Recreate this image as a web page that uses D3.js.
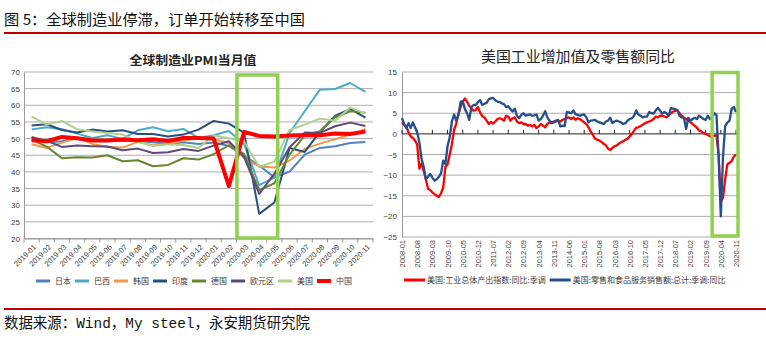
<!DOCTYPE html>
<html><head><meta charset="utf-8">
<script src="https://cdn.jsdelivr.net/npm/d3@7"></script>
<style>body{margin:0;background:#fff}svg{display:block}</style>
</head><body>
<svg id="c" width="766" height="342"></svg>
<script>
// ---------- data: left chart (Global manufacturing PMI) ----------
const months = ["2019-01","2019-02","2019-03","2019-04","2019-05","2019-06","2019-07","2019-08","2019-09","2019-10","2019-11","2019-12","2020-01","2020-02","2020-03","2020-04","2020-05","2020-06","2020-07","2020-08","2020-09","2020-10","2020-11"];
const seriesNames = ["日本","巴西","韩国","印度","德国","欧元区","美国","中国"];
const japan   = [50.3,48.9,49.2,50.2,49.8,49.3,49.4,49.3,48.9,48.4,48.9,48.4,48.8,47.8,44.8,41.9,38.4,40.1,45.2,47.2,47.7,48.7,49.0];
const brazil  = [52.7,53.4,52.8,51.5,50.2,51.0,49.9,52.5,53.4,52.2,52.9,50.2,51.0,52.3,48.4,36.0,38.3,51.6,58.2,64.7,64.9,66.7,64.0];
const korea   = [48.3,47.2,48.8,50.2,48.4,47.5,47.3,49.0,48.0,48.4,49.4,50.1,49.8,48.7,44.2,41.6,41.3,43.4,46.9,48.5,49.8,51.2,52.9];
const india   = [53.9,54.3,52.6,51.8,52.7,52.1,52.5,51.4,51.4,50.6,51.2,52.7,55.3,54.5,51.8,27.4,30.8,47.2,46.0,52.0,56.8,58.9,56.3];
const germany = [49.7,47.6,44.1,44.4,44.3,45.0,43.2,43.5,41.7,42.1,44.1,43.7,45.3,48.0,45.4,34.5,36.6,45.2,51.0,52.2,56.4,58.2,57.8];
const euro    = [50.5,49.3,47.5,47.9,47.7,47.6,46.5,47.0,45.7,45.9,46.9,46.3,47.9,49.2,44.5,33.4,39.4,47.4,51.8,51.7,53.7,54.8,53.8];
const usa     = [56.6,54.2,55.3,52.8,52.1,51.7,51.2,49.1,47.8,48.3,48.1,47.2,50.9,50.1,49.1,41.5,43.1,52.6,54.2,56.0,55.4,59.3,57.5];
const china   = [49.5,49.2,50.5,50.1,49.4,49.4,49.7,49.5,49.8,49.3,50.2,50.2,50.0,35.7,52.0,50.8,50.6,50.9,51.1,51.0,51.5,51.4,52.1];
const leftYTicks = [20,25,30,35,40,45,50,55,60,65,70];
const leftBox = ["2020-03","2020-05"];

// ---------- data: right chart (US IP & retail sales YoY), monthly 2008-01 .. 2020-11 ----------
const rightStart = "2008-01";
const ipYoY = [
 2.8,2.2,1.8,0.4,-0.6,-1.0,-1.6,-2.6,-8.4,-7.2,-9.0,-11.0,
 -13.3,-13.6,-14.2,-14.6,-15.0,-15.3,-14.4,-13.0,-8.0,-7.4,-5.0,-2.5,
 1.0,2.5,4.8,6.5,7.8,8.6,7.8,6.8,6.2,5.6,5.8,6.5,
 5.2,4.3,4.0,3.2,2.4,2.9,2.5,3.0,3.6,3.8,3.6,3.2,
 4.4,4.2,3.2,3.8,4.0,3.0,2.6,2.8,2.4,2.4,2.0,2.2,
 1.8,2.2,1.4,1.8,2.4,2.0,1.6,2.4,2.8,2.6,2.8,3.0,
 3.2,3.0,3.4,3.6,3.8,4.0,3.6,4.0,3.4,3.8,3.6,3.2,
 2.8,2.4,1.6,0.6,-0.2,-1.2,-1.4,-1.6,-2.0,-2.4,-2.8,-3.6,
 -3.9,-3.4,-3.0,-2.8,-2.4,-2.0,-1.8,-1.4,-1.2,-0.6,0.0,0.8,
 1.5,1.6,1.9,2.2,2.6,2.8,3.0,3.2,3.6,4.2,4.0,4.4,
 4.4,4.2,4.0,4.6,5.0,5.4,5.6,5.7,5.0,4.4,3.9,3.6,
 3.2,2.8,2.4,1.9,1.5,0.8,0.6,0.2,0.0,-0.3,-0.6,-0.8,
 -0.4,-0.3,-5.2,-16.4,-15.5,-11.0,-7.4,-7.0,-6.6,-5.5,-5.0];
const retailYoY = [
 3.8,2.4,1.4,2.6,1.4,2.8,1.6,0.4,-2.0,-6.0,-8.0,-11.0,
 -10.4,-9.7,-10.6,-11.3,-11.0,-10.4,-9.6,-6.5,-7.3,-3.0,-0.8,3.0,
 4.7,3.2,4.5,7.7,8.0,6.0,5.0,3.4,6.5,7.0,7.0,7.7,
 8.2,7.0,7.3,7.5,8.4,8.6,8.7,8.2,7.8,7.7,7.4,7.2,
 6.5,6.7,6.0,5.4,6.1,4.4,3.8,4.6,5.0,4.4,4.6,4.7,
 4.4,4.5,4.7,3.2,3.6,4.4,5.5,4.0,3.2,2.8,3.0,3.2,
 3.4,1.8,2.0,1.9,5.3,5.2,5.0,5.7,4.8,4.6,4.4,4.6,
 4.7,4.0,2.8,3.2,3.3,3.4,3.0,2.8,2.6,2.4,3.0,3.2,
 3.9,2.6,3.0,3.2,3.0,2.8,2.4,2.6,3.2,3.6,3.8,4.4,
 5.7,4.7,4.4,4.0,4.2,4.2,5.3,5.0,4.9,5.7,6.3,5.6,
 4.9,5.3,5.0,4.4,6.3,6.1,6.0,5.7,4.4,4.0,3.9,1.2,
 3.9,3.2,3.6,3.9,3.6,4.4,4.0,3.6,3.4,4.4,3.6,3.9,
 5.0,4.6,-5.7,-20.0,-5.6,1.9,2.7,3.2,6.1,6.5,5.3];
const rightNames = ["美国:工业总体产出指数:同比:季调","美国:零售和食品服务销售额:总计:季调:同比"];
const rightXTicks = ["2008-01","2008-08","2009-03","2009-10","2010-05","2010-12","2011-07","2012-02","2012-09","2013-04","2013-11","2014-06","2015-01","2015-08","2016-03","2016-10","2017-05","2017-12","2018-07","2019-02","2019-09","2020-04","2020-11"];
const rightYTicks = [-25,-20,-15,-10,-5,0,5,10,15];
const rightBox = ["2019-12","2020-11"];

// ---------- styles ----------
const leftColors = ["#4F81BD","#4BACC6","#F79646","#254E82","#67862F","#5F497A","#ADD08A","#FF0000"];
const leftWidths = [2,2,2,2,2,2,2,4];
const rightColors = ["#FF0000","#244F8C"];
const gridColor = "#ADADAD";
const textColor = "#404040";
const boxColor = "#92D050";
const cjk = "'Noto Sans CJK SC','Noto Sans',sans-serif";
const latin = "'Liberation Sans',Arial,sans-serif";

const svg = d3.select("#c");

// ---------- header / footer ----------
svg.append("text").attr("x",4).attr("y",25).attr("font-family",cjk).attr("font-size",15)
  .attr("fill","#111").attr("textLength",301).attr("lengthAdjust","spacingAndGlyphs")
  .text("图 5：全球制造业停滞，订单开始转移至中国");
svg.append("line").attr("x1",4).attr("x2",766).attr("y1",33).attr("y2",33).attr("stroke","#C00000").attr("stroke-width",2);
svg.append("line").attr("x1",4).attr("x2",766).attr("y1",309).attr("y2",309).attr("stroke","#C00000").attr("stroke-width",2);
svg.append("text").attr("x",4).attr("y",328).attr("font-family","'Liberation Mono','Noto Sans CJK SC',monospace").attr("font-size",15)
  .attr("fill","#111").attr("textLength",306).attr("lengthAdjust","spacingAndGlyphs")
  .text("数据来源：Wind，My steel，永安期货研究院");

// ---------- left chart ----------
{
  const g = svg.append("g");
  const x = d3.scaleBand().domain(months).range([24,373]);
  const y = d3.scaleLinear().domain([20,70]).range([238.5,72]);
  const cx = m => x(m) + x.bandwidth()/2;

  // grid
  g.selectAll(".gl").data(leftYTicks).join("line")
    .attr("x1",24).attr("x2",373).attr("y1",d=>y(d)).attr("y2",d=>y(d))
    .attr("stroke",gridColor).attr("stroke-width",1);
  // y axis
  const ya = g.append("g").attr("transform","translate(24,0)")
    .call(d3.axisLeft(y).tickValues(leftYTicks).tickSize(0).tickPadding(4));
  ya.select(".domain").attr("stroke","#999");
  ya.selectAll("text").attr("font-family",latin).attr("font-size",8).attr("fill",textColor);
  // x axis
  const xa = g.append("g").attr("transform","translate(0,238.5)")
    .call(d3.axisBottom(x).tickSize(0).tickPadding(0));
  xa.select(".domain").attr("stroke","#999");
  xa.selectAll("text").attr("font-family",latin).attr("font-size",7.5).attr("fill",textColor)
    .attr("text-anchor","end").attr("dy",0)
    .attr("transform","translate(5,9) rotate(-45)");
  g.selectAll(".xt").data(months.concat(["end"])).join("line")
    .attr("x1",d=>d==="end"?373:x(d)).attr("x2",d=>d==="end"?373:x(d))
    .attr("y1",238.5).attr("y2",242.5).attr("stroke","#999");

  const all = [japan,brazil,korea,india,germany,euro,usa,china];
  const line = d3.line().x((d,i)=>cx(months[i])).y(d=>y(d));
  all.forEach((s,k)=>{
    g.append("path").datum(s).attr("d",line).attr("fill","none")
      .attr("stroke",leftColors[k]).attr("stroke-width",leftWidths[k]).attr("stroke-linejoin","round");
  });

  // highlight box
  g.append("rect").attr("x",x(leftBox[0])+0.5).attr("y",75)
    .attr("width",x(leftBox[1])+x.bandwidth()*0.72 - x(leftBox[0]) - 0.5).attr("height",163)
    .attr("fill","none").attr("stroke",boxColor).attr("stroke-width",3.5);

  // title
  g.append("text").attr("x",193).attr("y",65).attr("text-anchor","middle")
    .attr("font-family",cjk).attr("font-weight","bold").attr("font-size",12).attr("fill","#222")
    .attr("textLength",127).attr("lengthAdjust","spacingAndGlyphs").text("全球制造业PMI当月值");

  // legend
  let lx = 36;
  seriesNames.forEach((n,k)=>{
    g.append("line").attr("x1",lx).attr("x2",lx+14).attr("y1",281).attr("y2",281)
      .attr("stroke",leftColors[k]).attr("stroke-width",k===7?4:3);
    const t = g.append("text").attr("x",lx+19).attr("y",284).attr("font-family",cjk)
      .attr("font-size",8).attr("fill",textColor).text(n);
    lx += 19 + t.node().getComputedTextLength() + 4;
  });
}

// ---------- right chart ----------
{
  const g = svg.append("g");
  const [sy, sm] = rightStart.split("-").map(Number);
  const idx = s => { const [yy,mm] = s.split("-").map(Number); return (yy-sy)*12 + (mm-sm); };
  const x = d3.scaleLinear().domain([0, ipYoY.length-1]).range([402,736]);
  const y = d3.scaleLinear().domain([-25,15]).range([237,72]);

  g.selectAll(".gl").data(rightYTicks.filter(d=>d!==0)).join("line")
    .attr("x1",402).attr("x2",737).attr("y1",d=>y(d)).attr("y2",d=>y(d))
    .attr("stroke",gridColor).attr("stroke-width",1);
  const ya = g.append("g").attr("transform","translate(402,0)")
    .call(d3.axisLeft(y).tickValues(rightYTicks).tickSize(0).tickPadding(5));
  ya.select(".domain").attr("stroke","#999");
  ya.selectAll("text").attr("font-family",latin).attr("font-size",8).attr("fill",textColor);

  // zero axis with ticks
  g.append("line").attr("x1",402).attr("x2",737).attr("y1",y(0)).attr("y2",y(0)).attr("stroke","#222").attr("stroke-width",1);
  g.selectAll(".zt").data(rightXTicks).join("line")
    .attr("x1",d=>x(idx(d))).attr("x2",d=>x(idx(d))).attr("y1",y(0)).attr("y2",y(0)-4)
    .attr("stroke","#222");

  // x labels at bottom, vertical
  g.selectAll(".xl").data(rightXTicks).join("text")
    .attr("transform",d=>`translate(${x(idx(d))+3},240) rotate(-90)`)
    .attr("text-anchor","end").attr("font-family",latin).attr("font-size",7.5).attr("fill",textColor)
    .text(d=>d);

  const line = d3.line().x((d,i)=>x(i)).y(d=>y(d));
  [ipYoY, retailYoY].forEach((s,k)=>{
    g.append("path").datum(s).attr("d",line).attr("fill","none")
      .attr("stroke",rightColors[k]).attr("stroke-width",2.3).attr("stroke-linejoin","round");
  });

  // highlight box
  const bx0 = x(idx(rightBox[0])), bx1 = x(idx(rightBox[1]))+2;
  g.append("rect").attr("x",bx0).attr("y",72.5).attr("width",bx1-bx0).attr("height",163.5)
    .attr("fill","none").attr("stroke",boxColor).attr("stroke-width",3.5);

  // title
  g.append("text").attr("x",578).attr("y",62).attr("text-anchor","middle")
    .attr("font-family",cjk).attr("font-size",15).attr("fill","#222")
    .attr("textLength",194).attr("lengthAdjust","spacingAndGlyphs").text("美国工业增加值及零售额同比");

  // legend
  let lx = 404;
  rightNames.forEach((n,k)=>{
    g.append("line").attr("x1",lx).attr("x2",lx+21).attr("y1",280).attr("y2",280)
      .attr("stroke",rightColors[k]).attr("stroke-width",3);
    const t = g.append("text").attr("x",lx+23).attr("y",283).attr("font-family",cjk)
      .attr("font-size",8).attr("fill",textColor).text(n);
    lx += 23 + t.node().getComputedTextLength() + 4;
  });
}
</script>
</body></html>
